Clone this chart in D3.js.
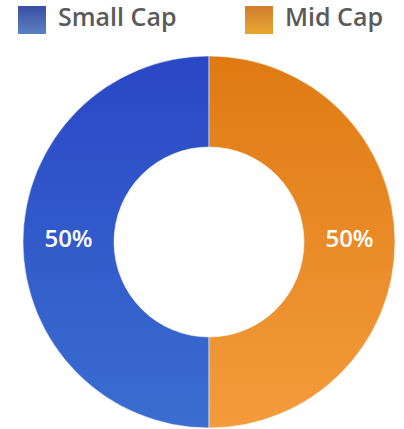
<!DOCTYPE html>
<html>
<head>
<meta charset="utf-8">
<script src="https://cdn.jsdelivr.net/npm/d3@7"></script>
<style>
  body { margin: 0; background: #fff; }
  svg { display: block; }
</style>
</head>
<body>
<div id="chart"></div>
<script>
const categories = ["Small Cap", "Mid Cap"];
const values = [50, 50];
const sliceTop = ["#2a47c6", "#df7a12"];
const sliceBottom = ["#3a6ecf", "#f39c3c"];
const legendTop = ["#3a4fa6", "#d07d2c"];
const legendBottom = ["#5b80c2", "#e8a832"];

const width = 404, height = 429;
const cx = 209, cy = 242, outerR = 186, innerR = 95;

const svg = d3.select("#chart").append("svg")
    .attr("width", width)
    .attr("height", height);

const defs = svg.append("defs");
// vertical gradients for slices, spanning the whole donut (local coords of g)
categories.forEach((c, i) => {
    let g = defs.append("linearGradient")
        .attr("id", "slice" + i)
        .attr("gradientUnits", "userSpaceOnUse")
        .attr("x1", 0).attr("y1", -outerR)
        .attr("x2", 0).attr("y2", outerR);
    g.append("stop").attr("offset", "0%").attr("stop-color", sliceTop[i]);
    g.append("stop").attr("offset", "100%").attr("stop-color", sliceBottom[i]);

    let lg = defs.append("linearGradient")
        .attr("id", "legend" + i)
        .attr("x1", 0).attr("y1", 0).attr("x2", 0).attr("y2", 1);
    lg.append("stop").attr("offset", "0%").attr("stop-color", legendTop[i]);
    lg.append("stop").attr("offset", "100%").attr("stop-color", legendBottom[i]);
});

// Legend
const legendX = [18, 245];
const legend = svg.append("g").selectAll("g")
    .data(categories)
    .join("g")
    .attr("transform", (d, i) => `translate(${legendX[i]}, 6)`);

legend.append("rect")
    .attr("width", 28)
    .attr("height", 28)
    .attr("fill", (d, i) => `url(#legend${i})`);

legend.append("text")
    .attr("x", 40)
    .attr("y", 20)
    .attr("font-family", "'Open Sans', sans-serif")
    .attr("font-weight", 600)
    .attr("font-size", 25)
    .attr("fill", "#5a5a5a")
    .text(d => d);

// Donut
const pie = d3.pie().sort(null).value(d => d);
const arc = d3.arc().innerRadius(innerR).outerRadius(outerR);
const labelArc = d3.arc().innerRadius((innerR + outerR) / 2).outerRadius((innerR + outerR) / 2);

// Small Cap on the left: mirror the angles
const arcs = pie(values).map((a, i) => ({ ...a, index: i, startAngle: -a.endAngle, endAngle: -a.startAngle }));

const g = svg.append("g").attr("transform", `translate(${cx}, ${cy})`);

g.selectAll("path")
    .data(arcs)
    .join("path")
    .attr("d", arc)
    .attr("fill", d => `url(#slice${d.index})`)
    .attr("stroke", "#fff")
    .attr("stroke-opacity", 0.5)
    .attr("stroke-width", 1);

g.selectAll("text")
    .data(arcs)
    .join("text")
    .attr("transform", d => `translate(${labelArc.centroid(d)})`)
    .attr("text-anchor", "middle")
    .attr("dy", "0.22em")
    .attr("font-family", "'Open Sans', sans-serif")
    .attr("font-weight", 600)
    .attr("font-size", 24)
    .attr("fill", "#fff")
    .text(d => d.data + "%");
</script>
</body>
</html>
